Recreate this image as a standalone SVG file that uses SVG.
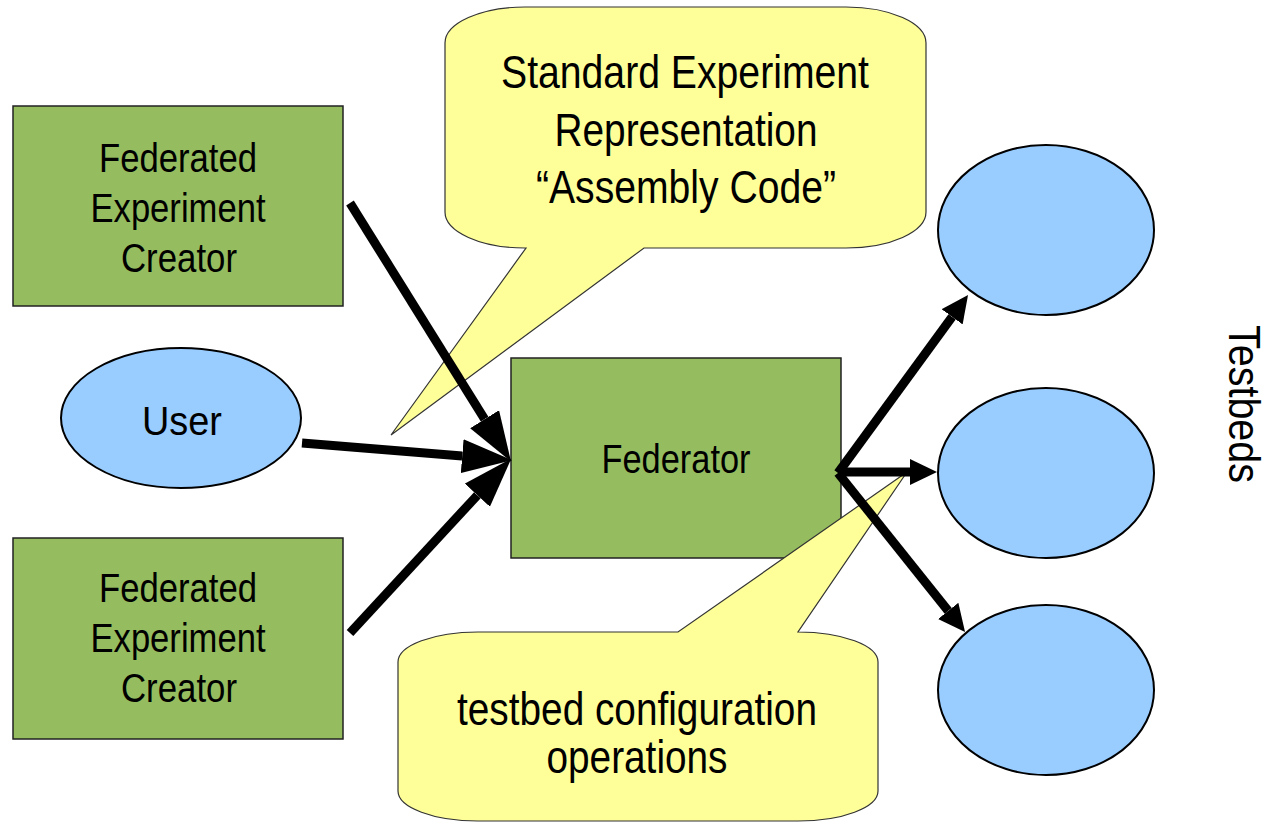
<svg xmlns="http://www.w3.org/2000/svg" width="1272" height="822" viewBox="0 0 1272 822">
<style>
text{font-family:"Liberation Sans Narrow","Liberation Sans",Arial,sans-serif;fill:#000;text-anchor:middle}
.box{fill:#95bd5f;stroke:#222;stroke-width:1.5}
.oval{fill:#99ccff;stroke:#000;stroke-width:2}
.call{fill:#ffff99;stroke:#333;stroke-width:1.2}
.t41{font-size:41px}
.t46{font-size:46px}
.conn{stroke:#000;stroke-width:9;fill:none}
</style>
<defs>
<marker id="headL" markerUnits="userSpaceOnUse" markerWidth="52" markerHeight="36" refX="0" refY="17" orient="auto">
<path d="M0,0 L50,17 L0,34 Z" fill="#000"/>
</marker>
<marker id="headR" markerUnits="userSpaceOnUse" markerWidth="30" markerHeight="28" refX="0" refY="13" orient="auto">
<path d="M0,0 L27,13 L0,26 Z" fill="#000"/>
</marker>
</defs>
<rect width="1272" height="822" fill="#fff"/>

<g id="creator-top">
<rect class="box" x="13" y="106" width="330" height="200"/>
<text class="t41" x="178" y="172" textLength="158" lengthAdjust="spacingAndGlyphs">Federated</text>
<text class="t41" x="178" y="222" textLength="175" lengthAdjust="spacingAndGlyphs">Experiment</text>
<text class="t41" x="179" y="272" textLength="116" lengthAdjust="spacingAndGlyphs">Creator</text>
</g>
<g id="user">
<ellipse class="oval" cx="181" cy="418" rx="120" ry="70"/>
<text class="t41" x="182" y="435" textLength="80" lengthAdjust="spacingAndGlyphs">User</text>
</g>
<g id="creator-bottom">
<rect class="box" x="13" y="538" width="330" height="201"/>
<text class="t41" x="178" y="602" textLength="158" lengthAdjust="spacingAndGlyphs">Federated</text>
<text class="t41" x="178" y="652" textLength="175" lengthAdjust="spacingAndGlyphs">Experiment</text>
<text class="t41" x="179" y="702" textLength="116" lengthAdjust="spacingAndGlyphs">Creator</text>
</g>
<g id="federator">
<rect class="box" x="511" y="358" width="330" height="200"/>
<text class="t41" x="676" y="473" textLength="149" lengthAdjust="spacingAndGlyphs">Federator</text>
</g>
<g id="testbed-1"><ellipse class="oval" cx="1046" cy="230" rx="108" ry="85"/></g>
<g id="testbed-2"><ellipse class="oval" cx="1046" cy="473" rx="108" ry="85"/></g>
<g id="testbed-3"><ellipse class="oval" cx="1046" cy="690" rx="108" ry="85"/></g>
<g id="testbeds-label">
<text transform="translate(1229,404) rotate(90)" style="font-size:45px" textLength="158" lengthAdjust="spacingAndGlyphs">Testbeds</text>
</g>

<g id="callout-representation">
<path class="call" d="M525,7 H846 A80,36 0 0 1 926,43 V212 A80,36 0 0 1 846,248 H644 L391,435 L526,248 H525 A80,36 0 0 1 445,212 V43 A80,36 0 0 1 525,7 Z"/>
<text class="t46" x="685" y="88" textLength="368" lengthAdjust="spacingAndGlyphs">Standard Experiment</text>
<text class="t46" x="686" y="146" textLength="263" lengthAdjust="spacingAndGlyphs">Representation</text>
<text class="t46" x="686" y="203" textLength="300" lengthAdjust="spacingAndGlyphs">“Assembly Code”</text>
</g>
<g id="callout-configuration">
<path class="call" d="M478,632 H678 L907,472 L798,632 H798 A80,30 0 0 1 878,662 V791 A80,30 0 0 1 798,821 H478 A80,30 0 0 1 398,791 V662 A80,30 0 0 1 478,632 Z"/>
<text class="t46" x="637" y="725" textLength="360" lengthAdjust="spacingAndGlyphs">testbed configuration</text>
<text class="t46" x="637" y="773" textLength="181" lengthAdjust="spacingAndGlyphs">operations</text>
</g>

<g id="connectors">
<line class="conn" x1="350" y1="203" x2="484.6" y2="419.2" marker-end="url(#headL)"/>
<line class="conn" x1="302" y1="443" x2="462.2" y2="456.1" marker-end="url(#headL)"/>
<line class="conn" x1="350" y1="633" x2="477.4" y2="495.2" marker-end="url(#headL)"/>
<line class="conn" x1="838" y1="473" x2="952.1" y2="316.8" marker-end="url(#headR)"/>
<line class="conn" x1="838" y1="472" x2="910" y2="472" marker-end="url(#headR)"/>
<line class="conn" x1="838" y1="473" x2="948.2" y2="610.9" marker-end="url(#headR)"/>
</g>
</svg>
